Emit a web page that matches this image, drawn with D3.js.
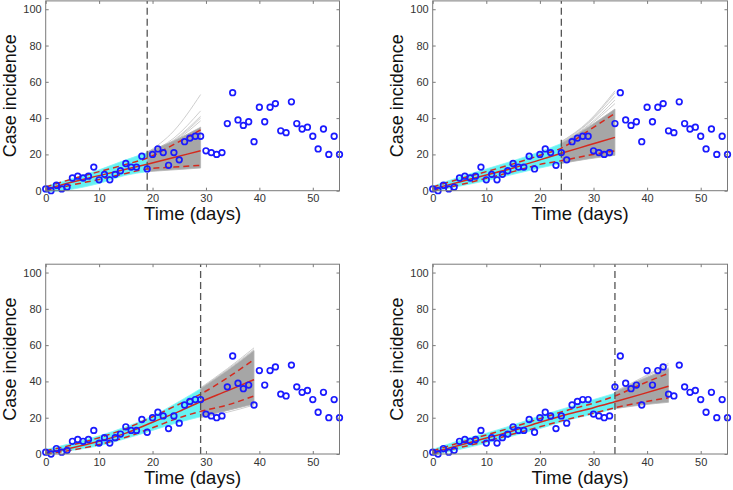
<!DOCTYPE html>
<html><head><meta charset="utf-8">
<script src="https://cdn.jsdelivr.net/npm/d3@7"></script>
<style>
html,body{margin:0;padding:0;background:#fff;}
svg{display:block;font-family:"Liberation Sans",Arial,Helvetica,sans-serif;}
</style></head>
<body><svg id="c" width="733" height="490"></svg>
<script>
// ---- observed data (days 0..55) ----
const incidence = [1,0,3,1,2,7,8,7,8,13,6,9,6,9,11,15,13,13,19,12,20,23,21,14,21,17,27,29,30,30,22,21,20,21,37,54,39,36,38,27,46,38,46,48,33,32,49,37,34,35,30,23,34,20,30,20];
const xTicks = [0,10,20,30,40,50];
const yTicks = [0,20,40,60,80,100];
const cutoffs = [19, 24, 29, 34];

// ---- panel 1 (calibration to day 19) ----
const p1FitT   = [0, 5, 10, 15, 19, 24, 29];
const p1Fit    = [0.8, 4.8, 8.3, 11.8, 14.6, 18.3, 22];
const p1Upper  = [2, 6.5, 10.5, 14.5, 18, 25.5, 33.5];
const p1Lower  = [0, 3.2, 6.2, 9.5, 12, 13, 14];
const p1CyanT  = [0, 3, 10, 15, 19];
const p1CyanLo = [-0.8, 0, 4, 8.5, 10.5];
const p1CyanHi = [2.5, 5, 11.5, 17, 21];
const p1FcT    = [19, 24, 29];
const p1GrayLo = [10.5, 11.5, 12.5];
const p1GrayHi = [21.5, 27.5, 35];
const p1Light  = [[21, 33, 53], [20.5, 29, 44], [20.5, 28, 41], [20, 27.5, 40], [20, 27, 38.5]];

// ---- panel 2 (calibration to day 24) ----
const p2FitT   = [0, 5, 10, 15, 20, 24, 29, 34];
const p2Fit    = [1, 4.8, 8.6, 12.5, 17, 20.6, 25, 29.4];
const p2Upper  = [2, 6.5, 10.5, 14.8, 19.5, 23.5, 33, 42.6];
const p2Lower  = [0, 3.2, 6.8, 10.5, 14.5, 16.5, 19.5, 22];
const p2CyanT  = [0, 5, 10, 15, 20, 24];
const p2CyanLo = [-0.5, 2.5, 5.5, 9, 12.5, 15];
const p2CyanHi = [2.5, 7.5, 12, 16.5, 21.5, 26];
const p2FcT    = [24, 29, 34];
const p2GrayLo = [15, 17.5, 19.5];
const p2GrayHi = [26, 35, 45];
const p2Light  = [[27, 38, 55], [27, 37.5, 54], [26.5, 37, 52], [26.5, 36, 50], [26, 35.5, 48]];

// ---- panel 3 (calibration to day 29) ----
const p3FitT   = [0, 5, 10, 15, 20, 25, 29, 34, 39];
const p3Fit    = [0.8, 3.5, 7, 11.5, 17.5, 23.5, 28.8, 34.8, 41];
const p3Upper  = [1.8, 5, 9, 14, 20.5, 27.5, 33, 42, 52];
const p3Lower  = [0, 2.2, 5.2, 9.2, 14.5, 20, 23.5, 27, 32];
const p3CyanT  = [0, 5, 10, 15, 20, 25, 29];
const p3CyanLo = [-0.5, 2, 4.5, 8.5, 13, 17.5, 20.5];
const p3CyanHi = [2.5, 6, 10, 15, 21, 29, 36];
const p3FcT    = [29, 34, 39];
const p3GrayLo = [20.5, 24, 27.5];
const p3GrayHi = [36, 46, 57];
const p3Light  = [[36.5, 47, 58.5], [36, 46.5, 57.5], [20, 23, 27], [20.5, 24, 28]];

// ---- panel 4 (calibration to day 34) ----
const p4FitT   = [0, 5, 10, 15, 20, 25, 30, 34, 39, 44];
const p4Fit    = [0.8, 4.8, 8.8, 12.8, 17.5, 21.8, 25.5, 28.8, 33, 37.3];
const p4Upper  = [1.8, 6.2, 10.5, 14.8, 19.5, 24, 28, 32, 38.5, 44.5];
const p4Lower  = [0, 3.5, 7, 11, 15, 19, 22.5, 25.5, 28.5, 31];
const p4CyanT  = [0, 5, 10, 15, 20, 25, 30, 34];
const p4CyanLo = [-0.5, 2.5, 6, 10, 14, 18.5, 22, 25];
const p4CyanHi = [2.5, 7.5, 11.5, 16, 21, 25.5, 30, 33.5];
const p4FcT    = [34, 39, 44];
const p4GrayLo = [25, 27, 28.5];
const p4GrayHi = [34, 41, 47];
const p4Light  = [[34.5, 42, 50], [34, 41.5, 49], [34, 41, 47.5]];

const panels = [
  {fitT:p1FitT, fit:p1Fit, up:p1Upper, lo:p1Lower, cT:p1CyanT, cLo:p1CyanLo, cHi:p1CyanHi, fT:p1FcT, gLo:p1GrayLo, gHi:p1GrayHi, light:p1Light},
  {fitT:p2FitT, fit:p2Fit, up:p2Upper, lo:p2Lower, cT:p2CyanT, cLo:p2CyanLo, cHi:p2CyanHi, fT:p2FcT, gLo:p2GrayLo, gHi:p2GrayHi, light:p2Light},
  {fitT:p3FitT, fit:p3Fit, up:p3Upper, lo:p3Lower, cT:p3CyanT, cLo:p3CyanLo, cHi:p3CyanHi, fT:p3FcT, gLo:p3GrayLo, gHi:p3GrayHi, light:p3Light},
  {fitT:p4FitT, fit:p4Fit, up:p4Upper, lo:p4Lower, cT:p4CyanT, cLo:p4CyanLo, cHi:p4CyanHi, fT:p4FcT, gLo:p4GrayLo, gHi:p4GrayHi, light:p4Light}
];

// ---- layout ----
const boxes = [
  {x0:45.7, x1:339.5, y0:190.7, y1:0.9},
  {x0:432.7, x1:727.5, y0:190.7, y1:0.9},
  {x0:45.7, x1:339.5, y0:454, y1:264.2},
  {x0:432.7, x1:727.5, y0:454, y1:264.2}
];

const svg = d3.select("#c");

panels.forEach((p, i) => {
  const b = boxes[i];
  const x = d3.scaleLinear().domain([0, 55]).range([b.x0, b.x1]);
  const y = d3.scaleLinear().domain([0, 104.6]).range([b.y0, b.y1]);
  const g = svg.append("g");
  const cut = cutoffs[i];

  const zip = (ts, vs) => ts.map((t, k) => [t, vs[k]]);
  const line = d3.line().x(d => x(d[0])).y(d => y(d[1])).curve(d3.curveMonotoneX);
  const area = d3.area().x(d => x(d[0])).y0(d => y(d[1])).y1(d => y(d[2])).curve(d3.curveMonotoneX);

  // cyan calibration ensemble
  g.append("path").attr("d", area(p.cT.map((t, k) => [t, p.cLo[k], p.cHi[k]])))
    .attr("fill", "#66f2f2").attr("stroke", "#85f6f6").attr("stroke-width", 0.8);

  // forecast ensemble (light curves then dense area)
  p.light.forEach(vals => {
    g.append("path").attr("d", line(zip(p.fT, vals)))
      .attr("fill", "none").attr("stroke", "#c8c8c8").attr("stroke-width", 0.9);
  });
  g.append("path").attr("d", area(p.fT.map((t, k) => [t, p.gLo[k], p.gHi[k]])))
    .attr("fill", "#a6a6a6").attr("stroke", "#b4b4b4").attr("stroke-width", 0.8);

  // fit and 95% bounds
  g.append("path").attr("d", line(zip(p.fitT, p.up)))
    .attr("fill", "none").attr("stroke", "#d42a1e").attr("stroke-width", 1.5).attr("stroke-dasharray", "6,4");
  g.append("path").attr("d", line(zip(p.fitT, p.lo)))
    .attr("fill", "none").attr("stroke", "#d42a1e").attr("stroke-width", 1.5).attr("stroke-dasharray", "6,4");
  g.append("path").attr("d", line(zip(p.fitT, p.fit)))
    .attr("fill", "none").attr("stroke", "#d42a1e").attr("stroke-width", 1.5);

  // vertical dashed cutoff
  g.append("line").attr("x1", x(cut)).attr("x2", x(cut)).attr("y1", b.y0).attr("y2", b.y1)
    .attr("stroke", "#555").attr("stroke-width", 1.3).attr("stroke-dasharray", "7,4");

  // observed points
  g.selectAll("circle.pt").data(incidence).enter().append("circle")
    .attr("cx", (d, k) => x(k)).attr("cy", d => y(d)).attr("r", 2.8)
    .attr("fill", "none").attr("stroke", "#1a1aff").attr("stroke-width", 1.7);

  // axes (inward ticks on all four sides)
  const ax = g.append("g").attr("transform", `translate(0,${b.y0})`)
    .call(d3.axisBottom(x).tickValues(xTicks).tickSize(-3).tickPadding(4));
  const axT = g.append("g").attr("transform", `translate(0,${b.y1})`)
    .call(d3.axisTop(x).tickValues(xTicks).tickSize(-3).tickFormat(""));
  const ay = g.append("g").attr("transform", `translate(${b.x0},0)`)
    .call(d3.axisLeft(y).tickValues(yTicks).tickSize(-3).tickPadding(4));
  const ayR = g.append("g").attr("transform", `translate(${b.x1},0)`)
    .call(d3.axisRight(y).tickValues(yTicks).tickSize(-3).tickFormat(""));
  [ax, axT, ay, ayR].forEach(a => {
    a.select(".domain").remove();
    a.selectAll("line").attr("stroke", "#7a7a7a");
    a.selectAll("text").attr("fill", "#333").style("font-size", "11px")
      .style("font-family", "'Liberation Sans',Arial,sans-serif");
  });
  g.append("rect").attr("x", b.x0).attr("y", b.y1).attr("width", b.x1 - b.x0).attr("height", b.y0 - b.y1)
    .attr("fill", "none").attr("stroke", "#7a7a7a").attr("stroke-width", 1);

  // titles
  g.append("text").attr("x", (b.x0 + b.x1) / 2).attr("y", b.y0 + 29.5)
    .attr("text-anchor", "middle").style("font-size", "18.5px").attr("fill", "#111").text("Time (days)");
  g.append("text").attr("transform", `translate(${b.x0 - 29.3},${(b.y0 + b.y1) / 2}) rotate(-90)`)
    .attr("text-anchor", "middle").style("font-size", "18px").attr("fill", "#111").text("Case incidence");
});
</script></body></html>
